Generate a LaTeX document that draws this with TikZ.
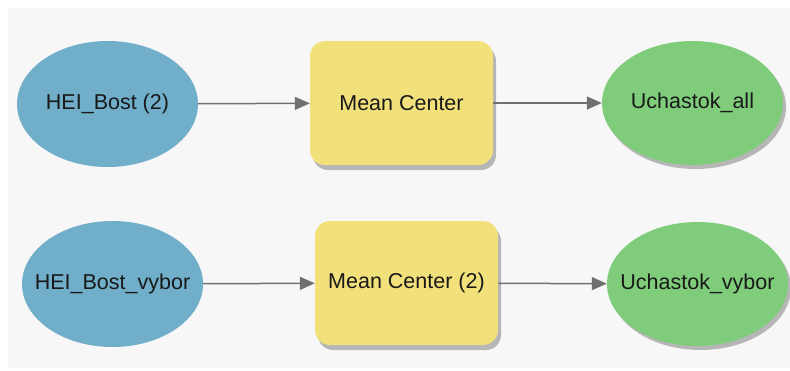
\documentclass[tikz,border=0pt]{standalone}
\usepackage{fontspec}
\setmainfont{Liberation Sans}
\usetikzlibrary{arrows.meta,shapes.geometric,shadows}
\definecolor{bgc}{RGB}{247,247,247}
\definecolor{inblue}{RGB}{112,174,202}
\definecolor{toolyel}{RGB}{242,224,122}
\definecolor{outgreen}{RGB}{127,204,122}
\definecolor{linegray}{RGB}{112,112,112}
\definecolor{txt}{RGB}{25,25,25}
\tikzset{
  lbl/.style={font=\fontsize{21.5}{24}\selectfont, text=txt, inner sep=0pt},
  inputnode/.style={ellipse, fill=inblue, minimum width=181pt, minimum height=126pt, inner sep=0pt},
  outputnode/.style={ellipse, fill=outgreen, minimum width=181pt, minimum height=124pt, inner sep=0pt,
     drop shadow={shadow xshift=3pt, shadow yshift=-4pt, fill=black!45, opacity=0.6}},
  toolnode/.style={rectangle, rounded corners=15pt, fill=toolyel, minimum width=183pt, minimum height=124pt, inner sep=0pt,
     drop shadow={shadow xshift=3pt, shadow yshift=-5pt, fill=black!45, opacity=0.6}},
  conn/.style={draw=linegray, line width=1.5pt, -{Triangle[length=15pt,width=13pt]}}
}
\begin{document}
\begin{tikzpicture}[x=1pt,y=-1pt]
\useasboundingbox (0,0) rectangle (790,370);
\fill[white] (0,0) rectangle (790,370);
\fill[bgc] (8,8) rectangle (790,368);
\node[inputnode] (in1) at (107.5,104) {};
\node[toolnode] (tool1) at (401.5,103) {};
\node[outputnode] (out1) at (692.5,103) {};
\node[inputnode] (in2) at (112.5,284) {};
\node[toolnode] (tool2) at (406.5,283) {};
\node[outputnode] (out2) at (697.5,284) {};
\node[lbl] (in1t) at (in1.center) {HEI\_Bost (2)};
\node[lbl] (tool1t) at (tool1.center) {Mean Center};
\node[lbl] (out1t) at (out1.center) {Uchastok\_all};
\node[lbl] (in2t) at (in2.center) {HEI\_Bost\_vybor};
\node[lbl] (tool2t) at (tool2.center) {Mean Center (2)};
\node[lbl] (out2t) at (out2.center) {Uchastok\_vybor};
\draw[conn] (in1) -- (tool1);
\draw[conn] (tool1) -- (out1);
\draw[conn] (in2) -- (tool2);
\draw[conn] (tool2) -- (out2);
\end{tikzpicture}
\end{document}
